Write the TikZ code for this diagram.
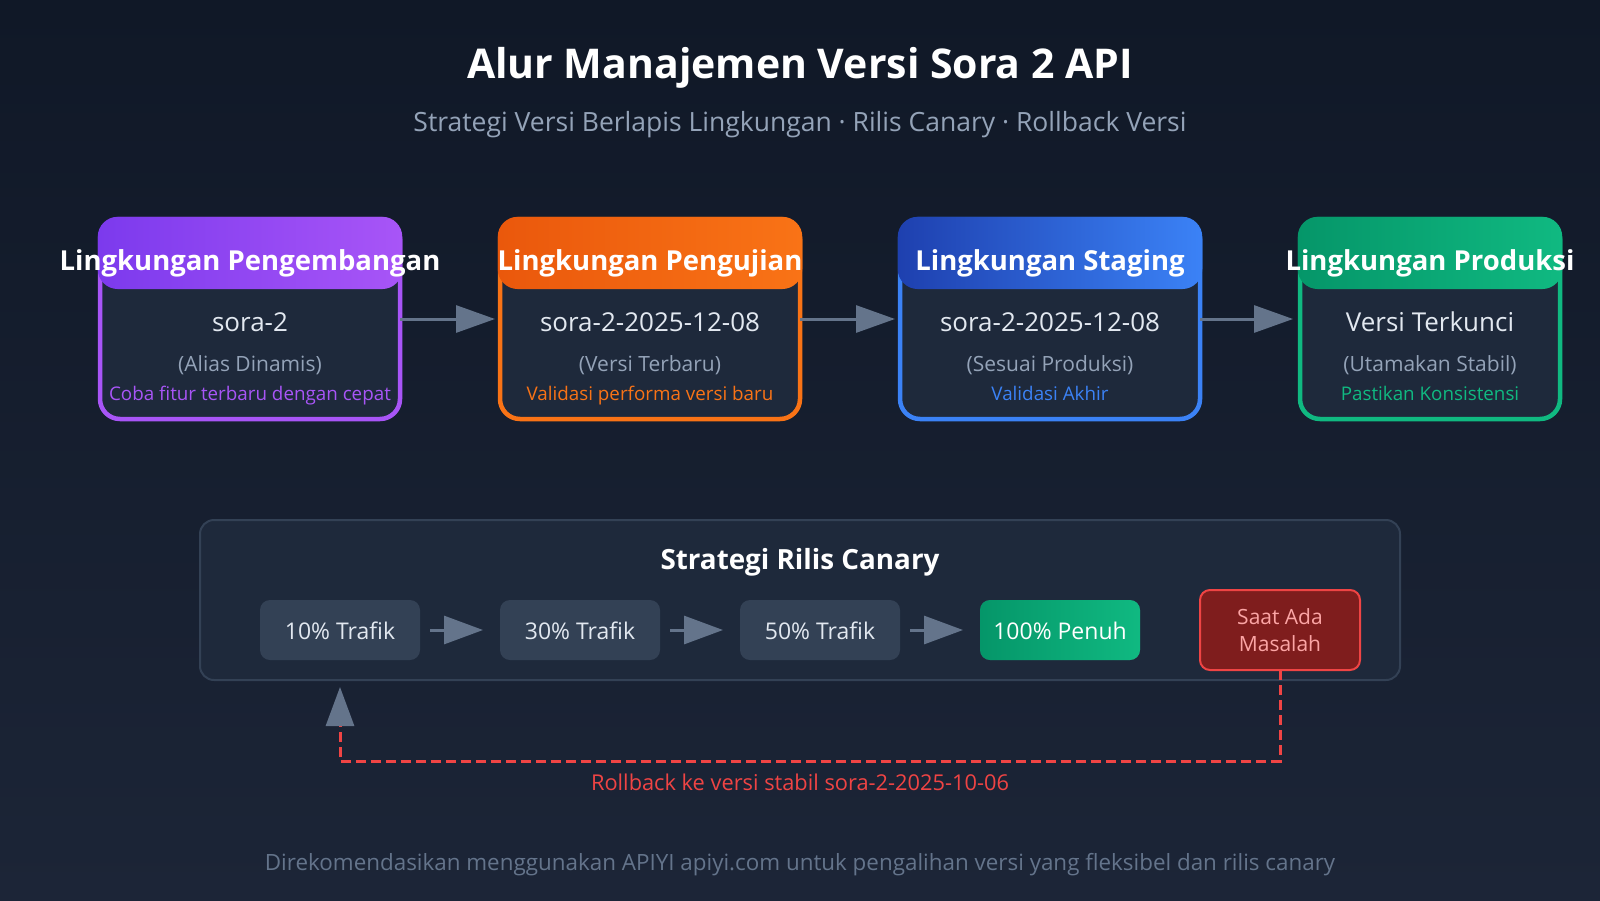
\documentclass[tikz,border=0pt]{standalone}
\usepackage{fontspec}
\setmainfont{Open Sans}
\usetikzlibrary{arrows.meta}
\definecolor{bgtop}{HTML}{101827}
\definecolor{bgbot}{HTML}{1C2537}
\definecolor{card}{HTML}{1E293B}
\definecolor{cardline}{HTML}{334155}
\definecolor{stepfill}{HTML}{334155}
\definecolor{txtlight}{HTML}{E2E8F0}
\definecolor{txtgray}{HTML}{94A3B8}
\definecolor{txtdim}{HTML}{64748B}
\definecolor{arrowgray}{HTML}{64748B}
\definecolor{purA}{HTML}{7C3AED}
\definecolor{purB}{HTML}{A855F7}
\definecolor{oraA}{HTML}{EA580C}
\definecolor{oraB}{HTML}{F97316}
\definecolor{bluA}{HTML}{1E40AF}
\definecolor{bluB}{HTML}{3B82F6}
\definecolor{grnA}{HTML}{059669}
\definecolor{grnB}{HTML}{10B981}
\definecolor{redfill}{HTML}{7F1D1D}
\definecolor{redline}{HTML}{EF4444}
\definecolor{redtxt}{HTML}{FCA5A5}
\newcommand\fsz[1]{\fontsize{#1}{#1}\selectfont}
\begin{document}
\begin{tikzpicture}[x=1pt,y=-1pt,
  envbox/.style={draw=#1, line width=4.5pt, fill=card, rounded corners=20pt,
    minimum height=200pt, outer sep=0pt, inner sep=0pt},
  hdr/.style={rounded corners=20pt, minimum height=72.25pt, outer sep=0pt, inner sep=0pt},
  htxt/.style={anchor=base, text=white, font=\fsz{27.5}\bfseries, inner sep=0pt},
  vtxt/.style={anchor=base, text=txtlight, font=\fsz{26}, inner sep=0pt},
  ptxt/.style={anchor=base, text=txtgray, font=\fsz{21}, inner sep=0pt},
  ntxt/.style={anchor=base, font=\fsz{18.8}, inner sep=0pt},
  bigarrow/.style={draw=arrowgray, line width=3pt, -{Triangle[length=39pt,width=27pt]}},
  smallarrow/.style={draw=arrowgray, line width=3pt, -{Triangle[length=39pt,width=28pt]}},
  stepbox/.style={fill=stepfill, rounded corners=10pt, minimum width=160pt, minimum height=60pt,
    outer sep=0pt, inner sep=0pt},
  steptxt/.style={anchor=base, text=txtlight, font=\fsz{23}, inner sep=0pt},
]
\useasboundingbox (0,0) rectangle (1600,900);
\shade[top color=bgtop, bottom color=bgbot] (0,0) rectangle (1600,900);

% title
\node[anchor=base, text=white, font=\fsz{41}\bfseries, inner sep=0pt] (title) at (800,78) {Alur Manajemen Versi Sora 2 API};
\node[anchor=base, text=txtgray, font=\fsz{26.5}, inner sep=0pt] (subtitle) at (800,131) {Strategi Versi Berlapis Lingkungan · Rilis Canary · Rollback Versi};

% environment boxes
\node[envbox=purB, minimum width=300pt] (b1) at (250,319) {};
\node[envbox=oraB, minimum width=300pt] (b2) at (650,319) {};
\node[envbox=bluB, minimum width=300pt] (b3) at (1050,319) {};
\node[envbox=grnB, minimum width=260pt] (b4) at (1430,319) {};

\node[hdr, left color=purA, right color=purB, minimum width=304.5pt] (h1) at (250,252.9) {};
\node[hdr, left color=oraA, right color=oraB, minimum width=304.5pt] (h2) at (650,252.9) {};
\node[hdr, left color=bluA, right color=bluB, minimum width=304.5pt] (h3) at (1050,252.9) {};
\node[hdr, left color=grnA, right color=grnB, minimum width=264.5pt] (h4) at (1430,252.9) {};

\node[htxt] (t1) at (250,270) {Lingkungan Pengembangan};
\node[htxt] (t2) at (650,270) {Lingkungan Pengujian};
\node[htxt] (t3) at (1050,270) {Lingkungan Staging};
\node[htxt] (t4) at (1430,270) {Lingkungan Produksi};

\node[vtxt] (v1) at (250,331) {sora-2};
\node[vtxt] (v2) at (650,331) {sora-2-2025-12-08};
\node[vtxt] (v3) at (1050,331) {sora-2-2025-12-08};
\node[vtxt] (v4) at (1430,331) {Versi Terkunci};

\node[ptxt] (p1) at (250,371) {(Alias Dinamis)};
\node[ptxt] (p2) at (650,371) {(Versi Terbaru)};
\node[ptxt] (p3) at (1050,371) {(Sesuai Produksi)};
\node[ptxt] (p4) at (1430,371) {(Utamakan Stabil)};

\node[ntxt, text=purB] (n1) at (250,400) {Coba fitur terbaru dengan cepat};
\node[ntxt, text=oraB] (n2) at (650,400) {Validasi performa versi baru};
\node[ntxt, text=bluB] (n3) at (1050,400) {Validasi Akhir};
\node[ntxt, text=grnB] (n4) at (1430,400) {Pastikan Konsistensi};

\draw[bigarrow, shorten >=5pt] (b1.east) -- (b2.west);
\draw[bigarrow, shorten >=5pt] (b2.east) -- (b3.west);
\draw[bigarrow, shorten >=7pt] (b3.east) -- (b4.west);

% canary panel
\node[fill=card, draw=cardline, line width=2pt, rounded corners=14pt, minimum width=1200pt,
  minimum height=160pt, outer sep=0pt, inner sep=0pt] (panel) at (800,600) {};
\node[anchor=base, text=white, font=\fsz{27.8}\bfseries, inner sep=0pt] (ctitle) at (800,569) {Strategi Rilis Canary};

\node[stepbox] (s1) at (340,630) {};
\node[stepbox] (s2) at (580,630) {};
\node[stepbox] (s3) at (820,630) {};
\node[stepbox, left color=grnA, right color=grnB] (s4) at (1060,630) {};
\node[steptxt] (l1) at (340,639.5) {10\% Trafik};
\node[steptxt] (l2) at (580,639.5) {30\% Trafik};
\node[steptxt] (l3) at (820,639.5) {50\% Trafik};
\node[steptxt, text=white] (l4) at (1060,639.5) {100\% Penuh};

\draw[smallarrow, shorten <=10pt, shorten >=17pt] (s1.east) -- (s2.west);
\draw[smallarrow, shorten <=10pt, shorten >=17pt] (s2.east) -- (s3.west);
\draw[smallarrow, shorten <=10pt, shorten >=17pt] (s3.east) -- (s4.west);

\node[fill=redfill, draw=redline, line width=2pt, rounded corners=10pt, minimum width=160pt,
  minimum height=80pt, outer sep=0pt, inner sep=0pt] (prob) at (1280,630) {};
\node[anchor=base, text=redtxt, font=\fsz{21}, inner sep=0pt] (pr1) at (1280,624) {Saat Ada};
\node[anchor=base, text=redtxt, font=\fsz{21}, inner sep=0pt] (pr2) at (1280,651.5) {Masalah};

% rollback
\coordinate (rbtip) at ([yshift=-27pt]s1.south);
\draw[draw=redline, line width=3pt, dash pattern=on 10pt off 5pt,
  -{Triangle[length=39pt,width=28pt,color=arrowgray]}]
  (prob.south) -- ++(0,91) -| (rbtip);
\node[anchor=base, text=redline, font=\fsz{21.8}, inner sep=0pt] (rblabel) at (800,790) {Rollback ke versi stabil sora-2-2025-10-06};

% footer
\node[anchor=base, text=txtdim, font=\fsz{22.4}, inner sep=0pt] (footer) at (800,870) {Direkomendasikan menggunakan APIYI apiyi.com untuk pengalihan versi yang fleksibel dan rilis canary};
\end{tikzpicture}
\end{document}
